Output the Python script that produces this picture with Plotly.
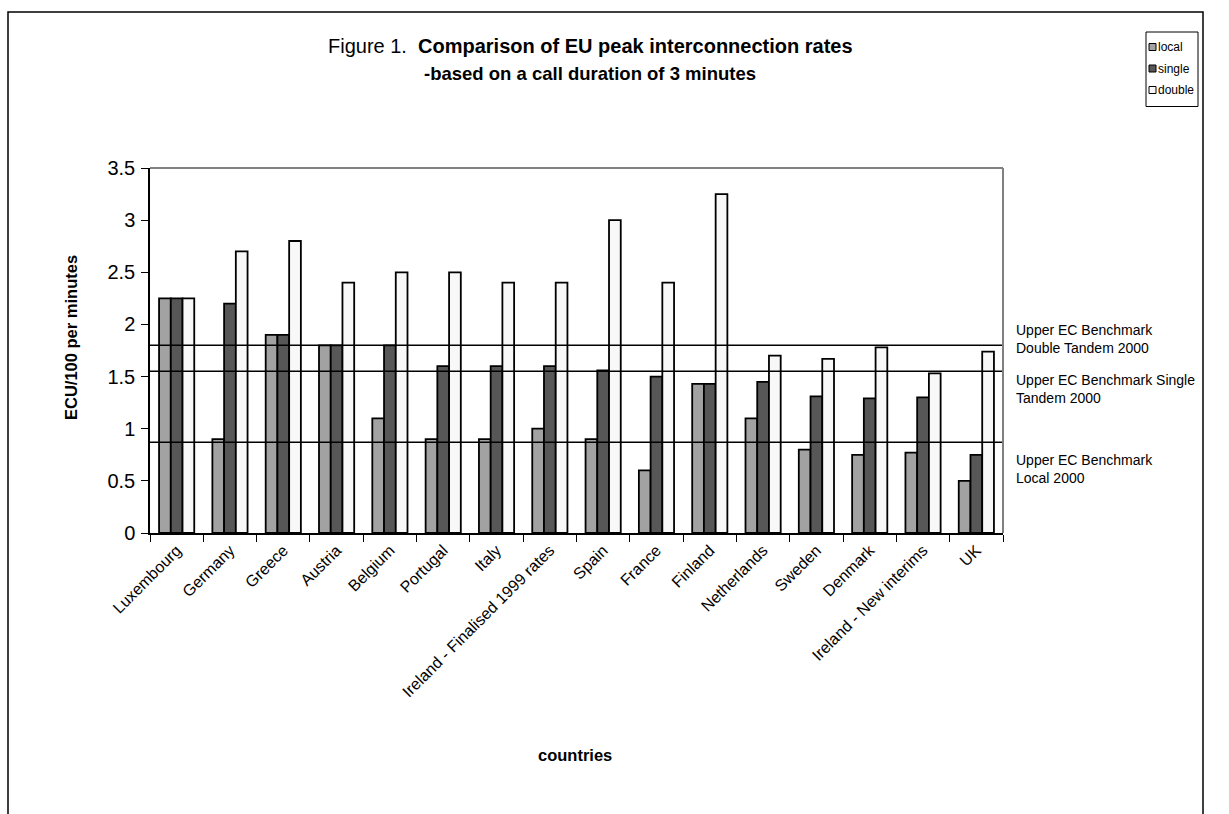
import plotly.graph_objects as go

# Peak interconnection rates, ECU/100 per minute (3-minute call)
countries = [
    "Luxembourg", "Germany", "Greece", "Austria", "Belgium", "Portugal", "Italy",
    "Ireland - Finalised 1999 rates", "Spain", "France", "Finland", "Netherlands",
    "Sweden", "Denmark", "Ireland - New interims", "UK",
]
local_rates = [2.25, 0.9, 1.9, 1.8, 1.1, 0.9, 0.9, 1.0, 0.9, 0.6, 1.43, 1.1, 0.8, 0.75, 0.77, 0.5]
single_rates = [2.25, 2.2, 1.9, 1.8, 1.8, 1.6, 1.6, 1.6, 1.56, 1.5, 1.43, 1.45, 1.31, 1.29, 1.3, 0.75]
double_rates = [2.25, 2.7, 2.8, 2.4, 2.5, 2.5, 2.4, 2.4, 3.0, 2.4, 3.25, 1.7, 1.67, 1.78, 1.53, 1.74]

series_names = ["local", "single", "double"]
series_colors = ["#a2a2a2", "#575757", "#f8f8f8"]

# Upper EC benchmarks for 2000
benchmark_values = [1.8, 1.55, 0.87]
benchmark_labels = [
    "Upper EC Benchmark<br>Double Tandem 2000",
    "Upper EC Benchmark Single<br>Tandem 2000",
    "Upper EC Benchmark<br>Local 2000",
]
benchmark_label_shift = [6, -18, -27]

y_ticks = [0, 0.5, 1, 1.5, 2, 2.5, 3, 3.5]

W, H = 1229, 814
L, R, T, B = 150, 226, 168, 281
PW, PH = W - L - R, H - T - B


def px(x):
    return (x - L) / PW


def py(y):
    return (H - B - y) / PH


FONT = "Liberation Sans, Arial, sans-serif"

fig = go.Figure()
for name, vals, color in zip(series_names, [local_rates, single_rates, double_rates], series_colors):
    fig.add_trace(go.Bar(
        x=countries, y=vals, name=name, showlegend=False,
        marker=dict(color=color, line=dict(color="black", width=1.8)),
    ))

shapes = []
for v in benchmark_values:
    shapes.append(dict(type="line", xref="x domain", yref="y", x0=0, x1=1, y0=v, y1=v,
                       line=dict(color="black", width=1.5), layer="above"))
# grey plot-area border on top and right
shapes.append(dict(type="line", xref="paper", yref="paper", x0=0, x1=1, y0=1, y1=1,
                   line=dict(color="#808080", width=2)))
shapes.append(dict(type="line", xref="paper", yref="paper", x0=1, x1=1, y0=0, y1=1,
                   line=dict(color="#808080", width=2)))
# outer chart frame
shapes.append(dict(type="rect", xref="paper", yref="paper",
                   x0=px(8), x1=px(1203), y0=py(830), y1=py(12),
                   line=dict(color="black", width=1.5)))

annotations = []
for v, lab, s in zip(benchmark_values, benchmark_labels, benchmark_label_shift):
    annotations.append(dict(x=px(1014), xref="paper", y=v, yref="y", yshift=s,
                            text=lab, showarrow=False, xanchor="left", yanchor="middle",
                            align="left", font=dict(family=FONT, size=14, color="black")))

# compact legend box
LG_X0, LG_X1, LG_Y0, LG_ROW = 1146, 1198, 32, 21.5
shapes.append(dict(type="rect", xref="paper", yref="paper",
                   x0=px(LG_X0), x1=px(LG_X1), y0=py(LG_Y0), y1=py(LG_Y0 + 15 + 3 * LG_ROW - 5),
                   line=dict(color="black", width=1), fillcolor="white"))
for i, (name, color) in enumerate(zip(series_names, series_colors)):
    cy = LG_Y0 + 15 + i * LG_ROW
    shapes.append(dict(type="rect", xref="paper", yref="paper",
                       x0=px(LG_X0 + 3), x1=px(LG_X0 + 10), y0=py(cy + 3.5), y1=py(cy - 3.5),
                       line=dict(color="black", width=1), fillcolor=color))
    annotations.append(dict(x=px(LG_X0 + 10), y=py(cy), xref="paper", yref="paper",
                            text=name, showarrow=False, xanchor="left", yanchor="middle",
                            font=dict(family=FONT, size=12, color="black")))

annotations.append(dict(x=px(590), y=py(46), xref="paper", yref="paper",
                        text="Figure 1.  <b>Comparison of EU peak interconnection rates</b>",
                        showarrow=False, xanchor="center", yanchor="middle",
                        font=dict(family=FONT, size=20, color="black")))
annotations.append(dict(x=px(590), y=py(74), xref="paper", yref="paper",
                        text="<b>-based on a call duration of 3 minutes</b>",
                        showarrow=False, xanchor="center", yanchor="middle",
                        font=dict(family=FONT, size=18.5, color="black")))
annotations.append(dict(x=px(71), y=py(338), xref="paper", yref="paper",
                        text="<b>ECU/100 per minutes</b>", textangle=-90,
                        showarrow=False, xanchor="center", yanchor="middle",
                        font=dict(family=FONT, size=16.5, color="black")))
annotations.append(dict(x=px(575), y=py(755), xref="paper", yref="paper",
                        text="<b>countries</b>",
                        showarrow=False, xanchor="center", yanchor="middle",
                        font=dict(family=FONT, size=16.5, color="black")))

fig.update_layout(
    width=W, height=H,
    margin=dict(l=L, r=R, t=T, b=B),
    paper_bgcolor="white", plot_bgcolor="white",
    barmode="group", bargap=0.34, bargroupgap=0,
    shapes=shapes, annotations=annotations,
    showlegend=False,
    font=dict(family=FONT, color="black"),
)
fig.update_xaxes(
    tickangle=-45, tickson="boundaries", ticks="outside", ticklen=7,
    tickcolor="black", showline=True, linecolor="black", linewidth=1.5,
    tickfont=dict(family=FONT, size=16, color="black"), showgrid=False,
)
fig.update_yaxes(
    range=[0, 3.5], tickvals=y_ticks, ticktext=[f"{t:g}" for t in y_ticks],
    ticks="outside", ticklen=7, tickcolor="black", ticklabelstandoff=2,
    showline=True, linecolor="black", linewidth=1.5, showgrid=False, zeroline=False,
    tickfont=dict(family=FONT, size=20, color="black"),
)

fig.write_html("out.html")
